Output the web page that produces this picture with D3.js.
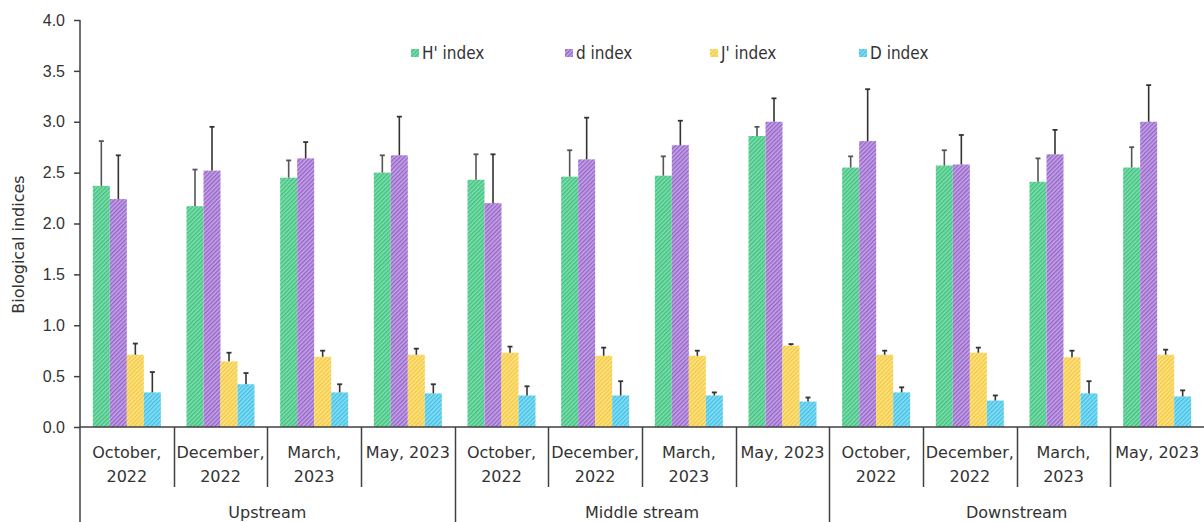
<!DOCTYPE html>
<html><head><meta charset="utf-8">
<script src="https://cdn.jsdelivr.net/npm/d3@7"></script>
<style>
html,body{margin:0;padding:0;background:#fff;}
svg{display:block;font-family:"DejaVu Sans",Verdana,sans-serif;}
</style></head>
<body><svg id="c" width="1204" height="522"></svg>
<script>
const groups = ["Upstream","Middle stream","Downstream"];
const periods = [["October,","2022"],["December,","2022"],["March,","2023"],["May, 2023"]];
const seriesNames = ["H' index","d index","J' index","D index"];
const seriesBase = ["#80dfae","#c6a5e8","#fee48c","#8ddef4"];
const seriesStripe = ["#40c07e","#9463c6","#f2c83c","#3ec1e6"];
const yTicks = [0,0.5,1,1.5,2,2.5,3,3.5,4];
// values: order Up Oct, Dec, Mar, May, Mid Oct.., Down Oct..
const hIndex = [2.37,2.17,2.45,2.50, 2.43,2.46,2.47,2.86, 2.55,2.57,2.41,2.55];
const hErr   = [0.44,0.36,0.17,0.17, 0.25,0.26,0.19,0.09, 0.11,0.15,0.23,0.20];
const dIndex = [2.24,2.52,2.64,2.67, 2.20,2.63,2.77,3.00, 2.81,2.58,2.68,3.00];
const dErr   = [0.43,0.43,0.16,0.38, 0.48,0.41,0.24,0.23, 0.51,0.29,0.24,0.36];
const jIndex = [0.71,0.645,0.69,0.71, 0.73,0.70,0.70,0.80, 0.71,0.73,0.685,0.71];
const jErr   = [0.11,0.085,0.06,0.06, 0.06,0.08,0.05,0.015, 0.04,0.05,0.065,0.05];
const DIndex = [0.34,0.42,0.34,0.33, 0.31,0.31,0.31,0.25, 0.34,0.26,0.33,0.30];
const DErr   = [0.20,0.11,0.08,0.09, 0.09,0.14,0.03,0.04, 0.05,0.05,0.12,0.06];

const vals = [hIndex,dIndex,jIndex,DIndex];
const errs = [hErr,dErr,jErr,DErr];

(function(){
const svg = d3.select("#c");
const defs = svg.append("defs");
seriesNames.forEach((s,i)=>{
  const p = defs.append("pattern").attr("id","pat"+i)
    .attr("patternUnits","userSpaceOnUse").attr("width",3).attr("height",3)
    .attr("patternTransform","rotate(45)");
  p.append("rect").attr("width",3).attr("height",3).attr("fill",seriesBase[i]);
  p.append("rect").attr("x",0).attr("width",1.4).attr("height",3).attr("fill",seriesStripe[i]);
});

const mLeft = 80, mRight = 1204, mTop = 20, base = 427;
const keys = [];
groups.forEach((g,gi)=>periods.forEach((p,pi)=>keys.push(gi*4+pi)));
const x0 = d3.scaleBand().domain(keys).range([mLeft,mRight]);
const bw = x0.bandwidth();
const pad = bw*0.137;
const x1 = d3.scaleBand().domain(d3.range(4)).range([pad,bw-pad]);
const y = d3.scaleLinear().domain([0,4]).range([base,mTop]);

const axisColor = "#404040";
const textColor = "#333";

const yAxis = d3.axisLeft(y).tickValues(yTicks).tickFormat(d3.format(".1f")).tickSize(6).tickSizeOuter(0);
const ya = svg.append("g").attr("transform",`translate(${mLeft},0)`).call(yAxis);
ya.select(".domain").remove();
ya.selectAll("line").attr("stroke",axisColor).attr("stroke-width",1.5);
ya.selectAll("text").attr("font-size",16).attr("fill",textColor).attr("x",-15);
svg.append("line").attr("x1",mLeft).attr("x2",mLeft).attr("y1",mTop).attr("y2",522).attr("stroke",axisColor).attr("stroke-width",1.5);

svg.append("text").attr("transform",`translate(24,${(mTop+base)/2+21}) rotate(-90)`)
  .attr("text-anchor","middle").attr("font-size",16).attr("fill",textColor).text("Biological indices");

keys.forEach(k=>{
  const g = svg.append("g").attr("transform",`translate(${x0(k)},0)`);
  for(let s=0;s<4;s++){
    const v = vals[s][k], e = errs[s][k];
    const bx = x1(s), w = x1.bandwidth();
    g.append("rect").attr("x",bx).attr("y",y(v)).attr("width",w).attr("height",base-y(v)).attr("fill",`url(#pat${s})`);
    const cx = bx + w/2;
    const col = s===0 ? "#555" : "#333";
    g.append("line").attr("x1",cx).attr("x2",cx).attr("y1",y(v)).attr("y2",y(v+e)).attr("stroke",col).attr("stroke-width",1.6);
    g.append("line").attr("x1",cx-2.5).attr("x2",cx+2.5).attr("y1",y(v+e)).attr("y2",y(v+e)).attr("stroke",col).attr("stroke-width",1.8);
  }
});

svg.append("line").attr("x1",mLeft).attr("x2",mRight).attr("y1",base).attr("y2",base).attr("stroke",axisColor).attr("stroke-width",1.5);
keys.forEach(k=>{
  if(k===0) return;
  const xx = Math.round(x0(k))+0.5;
  const isGroup = k%4===0;
  svg.append("line").attr("x1",xx).attr("x2",xx).attr("y1",base).attr("y2",isGroup?522:487).attr("stroke",axisColor).attr("stroke-width",1.5);
});
keys.forEach(k=>{
  const p = periods[k%4];
  const cx = x0(k)+bw/2;
  const t = svg.append("text").attr("text-anchor","middle").attr("font-size",16).attr("fill",textColor);
  p.forEach((line,li)=>{
    t.append("tspan").attr("x",cx).attr("y",458+li*24).text(line);
  });
});
groups.forEach((g,gi)=>{
  const cx = (x0(gi*4) + x0(gi*4+3)+bw)/2;
  svg.append("text").attr("x",cx).attr("y",518).attr("text-anchor","middle").attr("font-size",16).attr("fill",textColor).text(g);
});

const legX = [411,565,710,859];
seriesNames.forEach((s,i)=>{
  svg.append("rect").attr("x",legX[i]).attr("y",49).attr("width",8).attr("height",8).attr("fill",`url(#pat${i})`);
  svg.append("text").attr("x",legX[i]+11).attr("y",59).attr("font-size",17)
    .attr("font-family","'DejaVu Sans Condensed','DejaVu Sans',sans-serif").attr("fill",textColor).text(s);
});
})();
</script></body></html>
